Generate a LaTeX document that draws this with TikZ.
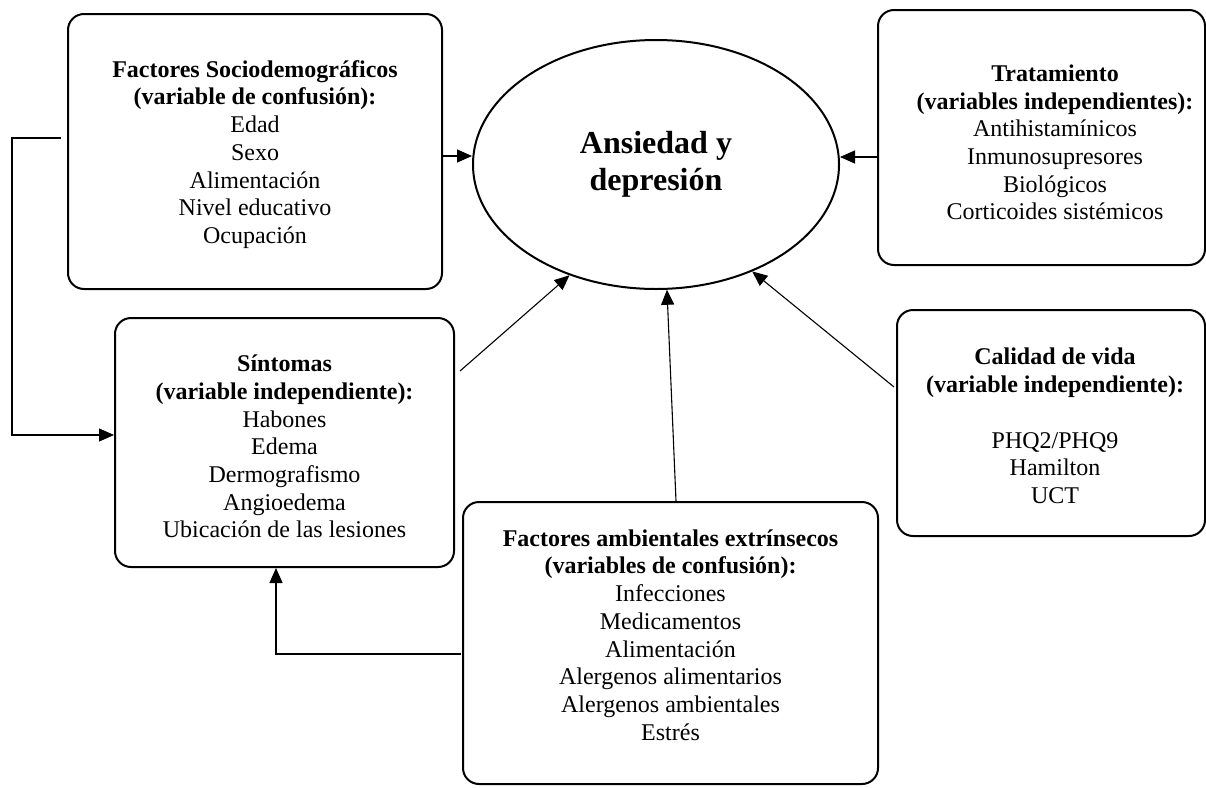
\documentclass[tikz,border=0pt]{standalone}
\usepackage{fontspec}
\setmainfont{Liberation Serif}
\usetikzlibrary{arrows.meta,shapes.geometric,calc}
\begin{document}
\begin{tikzpicture}[x=1pt,y=-1pt,
  box/.style={draw,line width=2pt,rounded corners=16pt,inner sep=0pt},
  txt/.style={align=center,font=\fontsize{24}{27.7}\selectfont,inner sep=0pt},
  arr/.style={line width=1.1pt,-{Triangle[length=15pt,width=13pt]}}]
\useasboundingbox (0,0) rectangle (1206,787);
\node[draw,line width=2pt,ellipse,minimum width=366pt,minimum height=249pt,inner sep=0pt,
  align=center,font=\bfseries\fontsize{32}{37}\selectfont] (ell) at (656,164.5) {\raisebox{-3pt}{Ansiedad y}\\\raisebox{-3pt}{depresión}};
\node[box,minimum width=374pt,minimum height=275pt] (soc) at (255,151.5) {};
\node[txt] (soct) at (255,154.5)
  {\textbf{Factores Sociodemográficos}\\\textbf{(variable de confusión):}\\Edad\\Sexo\\Alimentación\\Nivel educativo\\Ocupación};
\node[box,minimum width=327pt,minimum height=255pt] (trat) at (1041.5,137.5) {};
\node[txt] (tratt) at (1055,142.5)
  {\textbf{Tratamiento}\\\textbf{(variables independientes):}\\Antihistamínicos\\Inmunosupresores\\Biológicos\\Corticoides sistémicos};
\node[box,minimum width=339pt,minimum height=249pt] (sint) at (284.5,442.5) {};
\node[txt] (sintt) at (284.5,446.5)
  {\textbf{Síntomas}\\\textbf{(variable independiente):}\\Habones\\Edema\\Dermografismo\\Angioedema\\Ubicación de las lesiones};
\node[box,minimum width=415pt,minimum height=282pt] (amb) at (670.5,643) {};
\node[txt] (ambt) at (670.5,635)
  {\textbf{Factores ambientales extrínsecos}\\\textbf{(variables de confusión):}\\Infecciones\\Medicamentos\\Alimentación\\Alergenos alimentarios\\Alergenos ambientales\\Estrés};
\node[box,minimum width=308pt,minimum height=226pt] (cal) at (1051,423) {};
\node[txt] (calt) at (1055,426)
  {\textbf{Calidad de vida}\\\textbf{(variable independiente):}\\[27.7pt]PHQ2/PHQ9\\Hamilton\\UCT};
% connectors
\draw[arr] (soc.east |- 0,156) -- (ell.west |- 0,156);
\draw[arr] (trat.west |- 0,157) -- (ell.east |- 0,157);
\draw[arr] ($(sint.east |- 0,371)+(5,0)$) -- (ell.232);
\draw[arr] ($(cal.west |- 0,387)+(-2,0)$) -- (ell.312);
\draw[arr] ($(amb.north)+(5.5,0)$) -- (ell.275);
\draw[arr] ($(amb.west |- 0,654)+(-1,0)$) -| ([xshift=-8.5pt]sint.south);
\draw[arr] ($(soc.west |- 0,138)+(-6,0)$) -- (12,138) |- (sint.west |- 0,435);
\end{tikzpicture}
\end{document}
